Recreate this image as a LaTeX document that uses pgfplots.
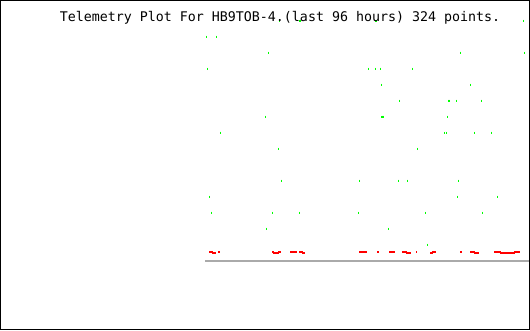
\documentclass[border=0pt]{standalone}
\usepackage{pgfplots}
\pgfplotsset{compat=1.18}
\usepackage{fontspec}
\newfontfamily\monofont{DejaVu Sans Mono}
\definecolor{ptgreen}{RGB}{0,255,0}
\definecolor{ptred}{RGB}{255,0,0}
\definecolor{axgray}{RGB}{170,170,170}
\begin{document}
\begin{tikzpicture}
\useasboundingbox (0,0) rectangle (530pt,330pt);
\fill[white] (0,0) rectangle (530pt,330pt);
\begin{axis}[
  at={(205pt,69.3pt)}, anchor=south west,
  scale only axis,
  x=3.3646pt, y=16pt,
  xmin=0, xmax=96.3, ymin=0, ymax=16,
  axis x line=bottom, axis y line=none,
  x axis line style={color=axgray, line width=2pt, -},
  xtick=\empty, ytick=\empty,
  clip=false,
]
\addplot[only marks, mark=|, mark size=1pt, mark options={line width=1.1pt, color=ptgreen}] coordinates {
(22.08,15) (28.23,15) (50.82,15) (94.60,15)
(0.39,14) (3.36,14)
(18.81,13) (75.88,13) (94.90,13)
(0.68,12) (48.53,12) (50.61,12) (52.10,12) (61.61,12)
(52.40,11) (78.85,11)
(57.75,10) (72.37,10) (72.70,10) (74.69,10) (82.12,10)
(17.92,9) (52.60,9) (52.90,9) (72.01,9)
(4.55,8) (71.12,8) (71.71,8) (80.04,8) (85.09,8)
(21.78,7) (63.10,7)
(22.68,5) (45.86,5) (57.45,5) (60.12,5) (75.28,5)
(1.28,4) (74.98,4) (86.87,4)
(1.87,3) (20.00,3) (28.03,3) (45.56,3) (65.47,3) (82.41,3)
(18.22,2) (54.48,2)
(66.07,1)
};
\addplot[only marks, mark=|, mark size=1pt, mark options={line width=1.2pt, color=ptred}] coordinates {
(1.49,0.54) (1.78,0.54) (2.08,0.54) (2.38,0.46) (2.67,0.46) (2.97,0.46)
(4.16,0.54)
(20.21,0.54) (20.51,0.46) (20.80,0.46) (21.10,0.46) (21.40,0.46) (21.70,0.46) (21.99,0.54) (22.29,0.54)
(25.56,0.54) (25.86,0.54) (26.15,0.54)
(26.45,0.54) (26.75,0.54) (27.05,0.54)
(28.23,0.54) (28.53,0.54) (28.83,0.54) (29.13,0.46) (29.42,0.46)
(46.07,0.54) (46.36,0.54) (46.66,0.54) (46.96,0.54) (47.26,0.54) (47.55,0.54) (47.85,0.54)
(51.42,0.54)
(54.98,0.54) (55.28,0.54) (55.58,0.54) (55.87,0.54) (56.17,0.54)
(58.85,0.54) (59.14,0.54) (59.44,0.54) (59.74,0.54) (60.04,0.46) (60.33,0.46) (60.63,0.46) (60.93,0.46)
(62.86,0.54)
(67.17,0.46) (67.47,0.46) (67.76,0.54) (68.06,0.54) (68.36,0.54)
(76.08,0.54)
(79.06,0.54) (79.35,0.54) (79.65,0.54) (79.95,0.54) (80.24,0.46) (80.54,0.46) (80.84,0.46) (81.14,0.46)
(86.19,0.54) (86.49,0.54) (86.79,0.54) (87.08,0.54) (87.38,0.54) (87.68,0.54)
(87.97,0.46) (88.27,0.46) (88.57,0.46) (88.87,0.46) (89.16,0.46) (89.46,0.46) (89.76,0.46) (90.06,0.46)
(90.35,0.46) (90.65,0.46) (90.95,0.46) (91.25,0.46) (91.54,0.46) (91.84,0.46)
(92.14,0.54) (92.44,0.54) (92.73,0.54) (93.03,0.54) (93.33,0.54)
};
\end{axis}
\node[anchor=base, inner sep=0pt, font=\monofont\fontsize{13.3pt}{13.3pt}\selectfont] at (280pt,308pt) {Telemetry Plot For HB9TOB-4.(last 96 hours) 324 points.};
\draw[line width=1pt] (0.5pt,0.5pt) rectangle (529.5pt,329.5pt);
\end{tikzpicture}
\end{document}
